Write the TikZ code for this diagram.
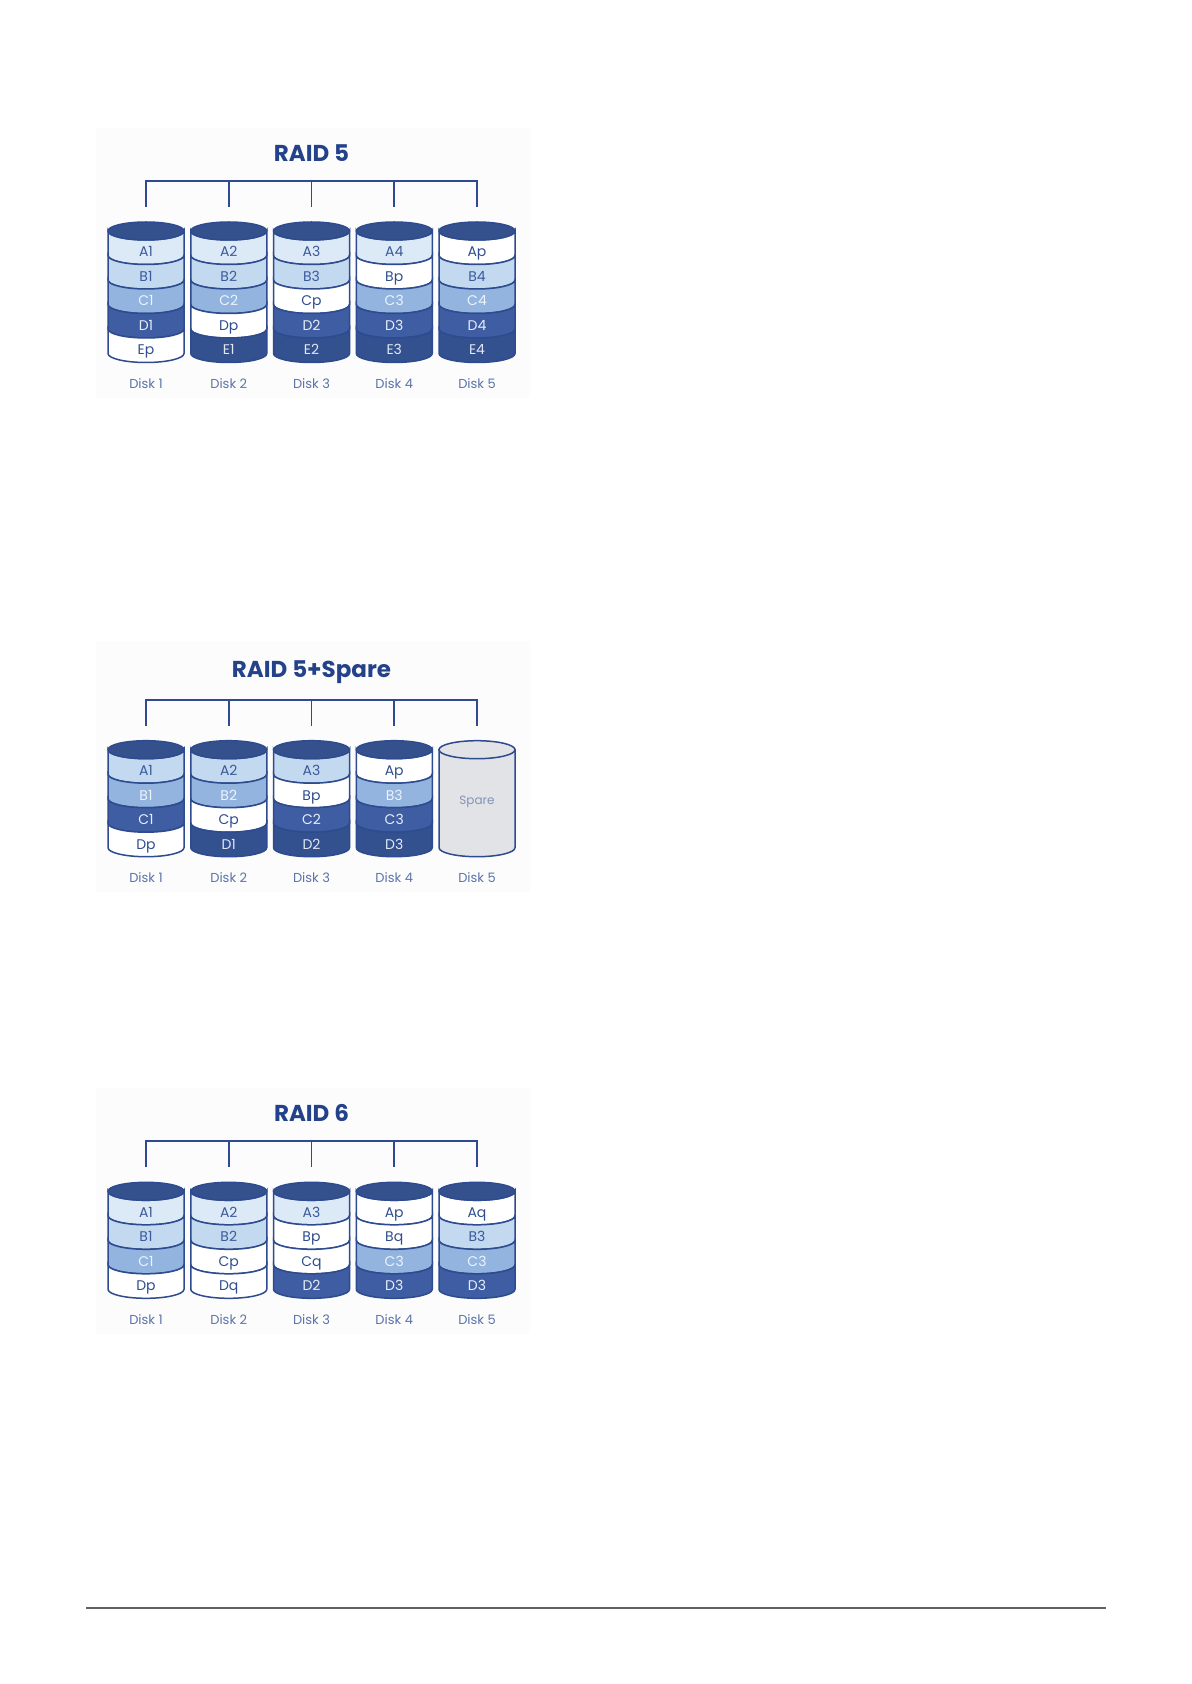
\documentclass[tikz,border=0pt]{standalone}
\usepackage{fontspec}
\setmainfont{Poppins}
\usetikzlibrary{positioning}

\definecolor{raidnavy}{HTML}{2D4B8E}
\definecolor{titleblue}{HTML}{23428A}
\definecolor{labelblue}{HTML}{5B74AA}
\definecolor{lid}{HTML}{34518E}
\definecolor{panel}{HTML}{FCFCFC}
\definecolor{sparegray}{HTML}{E2E3E6}
\definecolor{sparetext}{HTML}{8393B8}
\definecolor{lvl0}{HTML}{FFFFFF}
\definecolor{lvl1}{HTML}{DCE9F6}
\definecolor{lvl2}{HTML}{C3D9F0}
\definecolor{lvl3}{HTML}{92B4DE}
\definecolor{lvl4}{HTML}{3F5DA3}
\definecolor{lvl5}{HTML}{33508F}
\definecolor{ink0}{HTML}{2F4D8F}
\definecolor{ink1}{HTML}{3B5A9A}
\definecolor{ink2}{HTML}{3B5A9A}
\definecolor{ink3}{HTML}{EEF3FA}
\definecolor{ink4}{HTML}{E8EEF7}
\definecolor{ink5}{HTML}{E2E8F4}

\tikzset{
  disk edge/.style={draw=raidnavy, line width=0.75pt},
  band text/.style={font=\fontsize{7}{8}\selectfont, inner sep=0pt,
    text height=5.1pt, text depth=1.3pt},
  disk label/.style={font=\fontsize{6.5}{8}\selectfont, text=labelblue},
  raid title/.style={font=\bfseries\fontsize{11.5}{13}\selectfont, text=titleblue},
  bus/.style={draw=raidnavy, line width=0.9pt},
}

% one disk: name, centre x, lid y, bands (level/text)
\newcommand\raiddisk[4]{%
  \foreach \lv/\txt [count=\k] in {#4} {
    \pgfmathsetmacro\ytop{#3+(\k-1)*24.5}
    \pgfmathsetmacro\ybot{#3+\k*24.5}
    \filldraw[disk edge, fill=lvl\lv] (#2-38,\ytop)
      arc[start angle=180, end angle=0, x radius=38, y radius=9]
      -- (#2+38,\ybot)
      arc[start angle=0, end angle=180, x radius=38, y radius=9] -- cycle;
    \node[band text, text=ink\lv] (#1-\k) at (#2,\ytop+22) {\txt};
  }
  \filldraw[disk edge, fill=lid] (#2,#3) ellipse[x radius=38, y radius=9];
}

\newcommand\sparedisk[3]{%
  \filldraw[disk edge, fill=sparegray] (#2-38,#3) -- (#2-38,#3+98)
    arc[start angle=180, end angle=0, x radius=38, y radius=9] -- (#2+38,#3) -- cycle;
  \filldraw[disk edge, fill=sparegray] (#2,#3) ellipse[x radius=38, y radius=9];
  \node[band text, font=\fontsize{6}{7}\selectfont, text=sparetext] (#1) at (#2,#3+51) {Spare};
}

\begin{document}
\begin{tikzpicture}[x=0.5pt, y=-0.5pt]
\useasboundingbox[fill=white] (0,0) rectangle (1191,1684);

% RAID 5
\begin{scope}
\fill[panel] (96,128) rectangle (530,398);
\node[raid title] (r5-title) at (311.5,153) {RAID 5};
\foreach \i in {1,...,5} {
  \coordinate (r5-t\i) at (146+82.75*\i-82.75,181);
  \coordinate (r5-b\i) at (146+82.75*\i-82.75,207);
}
\draw[bus] (r5-b1) -- (r5-t1) -- (r5-t5) -- (r5-b5);
\foreach \i in {2,3,4} \draw[bus] (r5-t\i) -- (r5-b\i);
\raiddisk{r5d1}{146}{231}{1/A1,2/B1,3/C1,4/D1,0/Ep}
\raiddisk{r5d2}{228.75}{231}{1/A2,2/B2,3/C2,0/Dp,5/E1}
\raiddisk{r5d3}{311.5}{231}{1/A3,2/B3,0/Cp,4/D2,5/E2}
\raiddisk{r5d4}{394.25}{231}{1/A4,0/Bp,3/C3,4/D3,5/E3}
\raiddisk{r5d5}{477}{231}{0/Ap,2/B4,3/C4,4/D4,5/E4}
\foreach \i in {1,...,5}
  \node[disk label] (r5-lab\i) at (146+82.75*\i-82.75,383.5) {Disk \i};
\end{scope}

% RAID 5+Spare
\begin{scope}[shift={(0,518.7)}]
\fill[panel] (96,122) rectangle (530,373.5);
\node[raid title] (rs-title) at (311.5,153) {RAID 5+Spare};
\foreach \i in {1,...,5} {
  \coordinate (rs-t\i) at (146+82.75*\i-82.75,181);
  \coordinate (rs-b\i) at (146+82.75*\i-82.75,207);
}
\draw[bus] (rs-b1) -- (rs-t1) -- (rs-t5) -- (rs-b5);
\foreach \i in {2,3,4} \draw[bus] (rs-t\i) -- (rs-b\i);
\raiddisk{rsd1}{146}{231}{2/A1,3/B1,4/C1,0/Dp}
\raiddisk{rsd2}{228.75}{231}{2/A2,3/B2,0/Cp,5/D1}
\raiddisk{rsd3}{311.5}{231}{2/A3,0/Bp,4/C2,5/D2}
\raiddisk{rsd4}{394.25}{231}{0/Ap,3/B3,4/C3,5/D3}
\sparedisk{rsd5}{477}{231}
\foreach \i in {1,...,5}
  \node[disk label] (rs-lab\i) at (146+82.75*\i-82.75,359) {Disk \i};
\end{scope}

% RAID 6
\begin{scope}[shift={(0,960.3)}]
\fill[panel] (96,128) rectangle (530,373.5);
\node[raid title] (r6-title) at (311.5,153) {RAID 6};
\foreach \i in {1,...,5} {
  \coordinate (r6-t\i) at (146+82.75*\i-82.75,181);
  \coordinate (r6-b\i) at (146+82.75*\i-82.75,207);
}
\draw[bus] (r6-b1) -- (r6-t1) -- (r6-t5) -- (r6-b5);
\foreach \i in {2,3,4} \draw[bus] (r6-t\i) -- (r6-b\i);
\raiddisk{r6d1}{146}{231}{1/A1,2/B1,3/C1,0/Dp}
\raiddisk{r6d2}{228.75}{231}{1/A2,2/B2,0/Cp,0/Dq}
\raiddisk{r6d3}{311.5}{231}{1/A3,0/Bp,0/Cq,4/D2}
\raiddisk{r6d4}{394.25}{231}{0/Ap,0/Bq,3/C3,4/D3}
\raiddisk{r6d5}{477}{231}{0/Aq,2/B3,3/C3,4/D3}
\foreach \i in {1,...,5}
  \node[disk label] (r6-lab\i) at (146+82.75*\i-82.75,359) {Disk \i};
\end{scope}

\coordinate (rule-l) at (86,1607.7);
\coordinate (rule-r) at (1106,1607.7);
\draw[color=black!62, line width=1pt] (rule-l) -- (rule-r);
\end{tikzpicture}
\end{document}
